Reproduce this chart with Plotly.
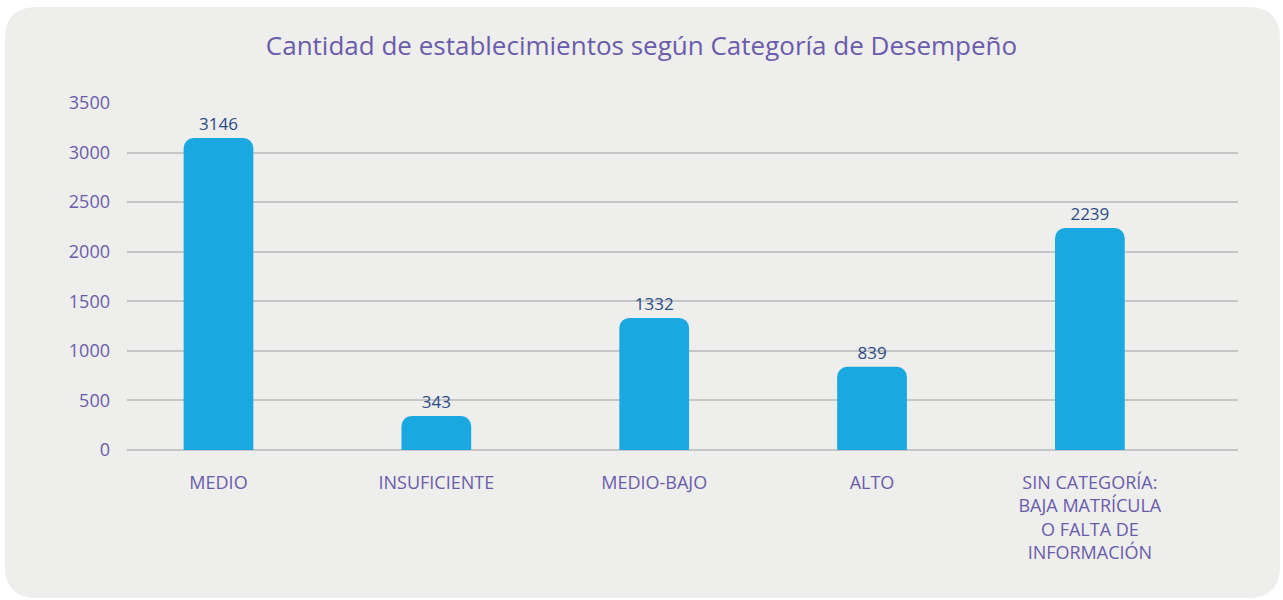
import plotly.graph_objects as go

categories = ["MEDIO", "INSUFICIENTE", "MEDIO-BAJO", "ALTO",
              "SIN CATEGORÍA:<br>BAJA MATRÍCULA<br>O FALTA DE<br>INFORMACIÓN"]
values = [3146, 343, 1332, 839, 2239]
y_ticks = [0, 500, 1000, 1500, 2000, 2500, 3000, 3500]

W, H = 1283, 600
L, R, T, B = 127, 1238, 103, 450

def px(x):
    return (x - L) / (R - L)

def py(y):
    return (B - y) / (B - T)

# rounded background card in paper coordinates
x0, x1, y0, y1, r = 5, 1280, 7, 598, 32
path = (
    f"M {px(x0 + r)} {py(y0)} L {px(x1 - r)} {py(y0)} "
    f"Q {px(x1)} {py(y0)} {px(x1)} {py(y0 + r)} "
    f"L {px(x1)} {py(y1 - r)} Q {px(x1)} {py(y1)} {px(x1 - r)} {py(y1)} "
    f"L {px(x0 + r)} {py(y1)} Q {px(x0)} {py(y1)} {px(x0)} {py(y1 - r)} "
    f"L {px(x0)} {py(y0 + r)} Q {px(x0)} {py(y0)} {px(x0 + r)} {py(y0)} Z"
)

FONT = "Open Sans"
purple = "#6A5CAB"
fig = go.Figure(go.Bar(
    x=categories, y=values,
    marker=dict(color="#1AA8E1", cornerradius=10, line=dict(width=0)),
    width=0.32,
    text=[str(v) for v in values], textposition="outside",
    textfont=dict(color="#2C4C86", size=17, family=FONT, weight=400),
    cliponaxis=False,
))

fig.update_layout(
    width=W, height=H,
    margin=dict(l=L, r=W - R, t=T, b=H - B),
    paper_bgcolor="white", plot_bgcolor="rgba(0,0,0,0)",
    font=dict(family=FONT, color=purple, weight=400),
    title=dict(text="Cantidad de establecimientos según Categoría de Desempeño",
               x=0.5, xref="container", xanchor="center", y=1 - 46 / H, yanchor="middle",
               font=dict(size=26, color=purple, family=FONT, weight=400)),
    showlegend=False,
    shapes=[dict(type="path", path=path, xref="paper", yref="paper",
                 fillcolor="#EEEEED", line=dict(width=0), layer="below")],
)
fig.update_xaxes(range=[-0.42, 4.68], showgrid=False, ticks="", showline=False,
                 tickfont=dict(size=18, color=purple, family=FONT, weight=400),
                 ticklabelstandoff=20)
fig.update_yaxes(range=[0, 3500], tickvals=y_ticks, showgrid=True, gridcolor="#C6C6C6",
                 gridwidth=1.5, zeroline=True, zerolinecolor="#C6C6C6", zerolinewidth=1.5,
                 showline=False, ticks="",
                 tickfont=dict(size=18, color=purple, family=FONT, weight=400),
                 ticklabelstandoff=16)

fig.write_html("out.html")
